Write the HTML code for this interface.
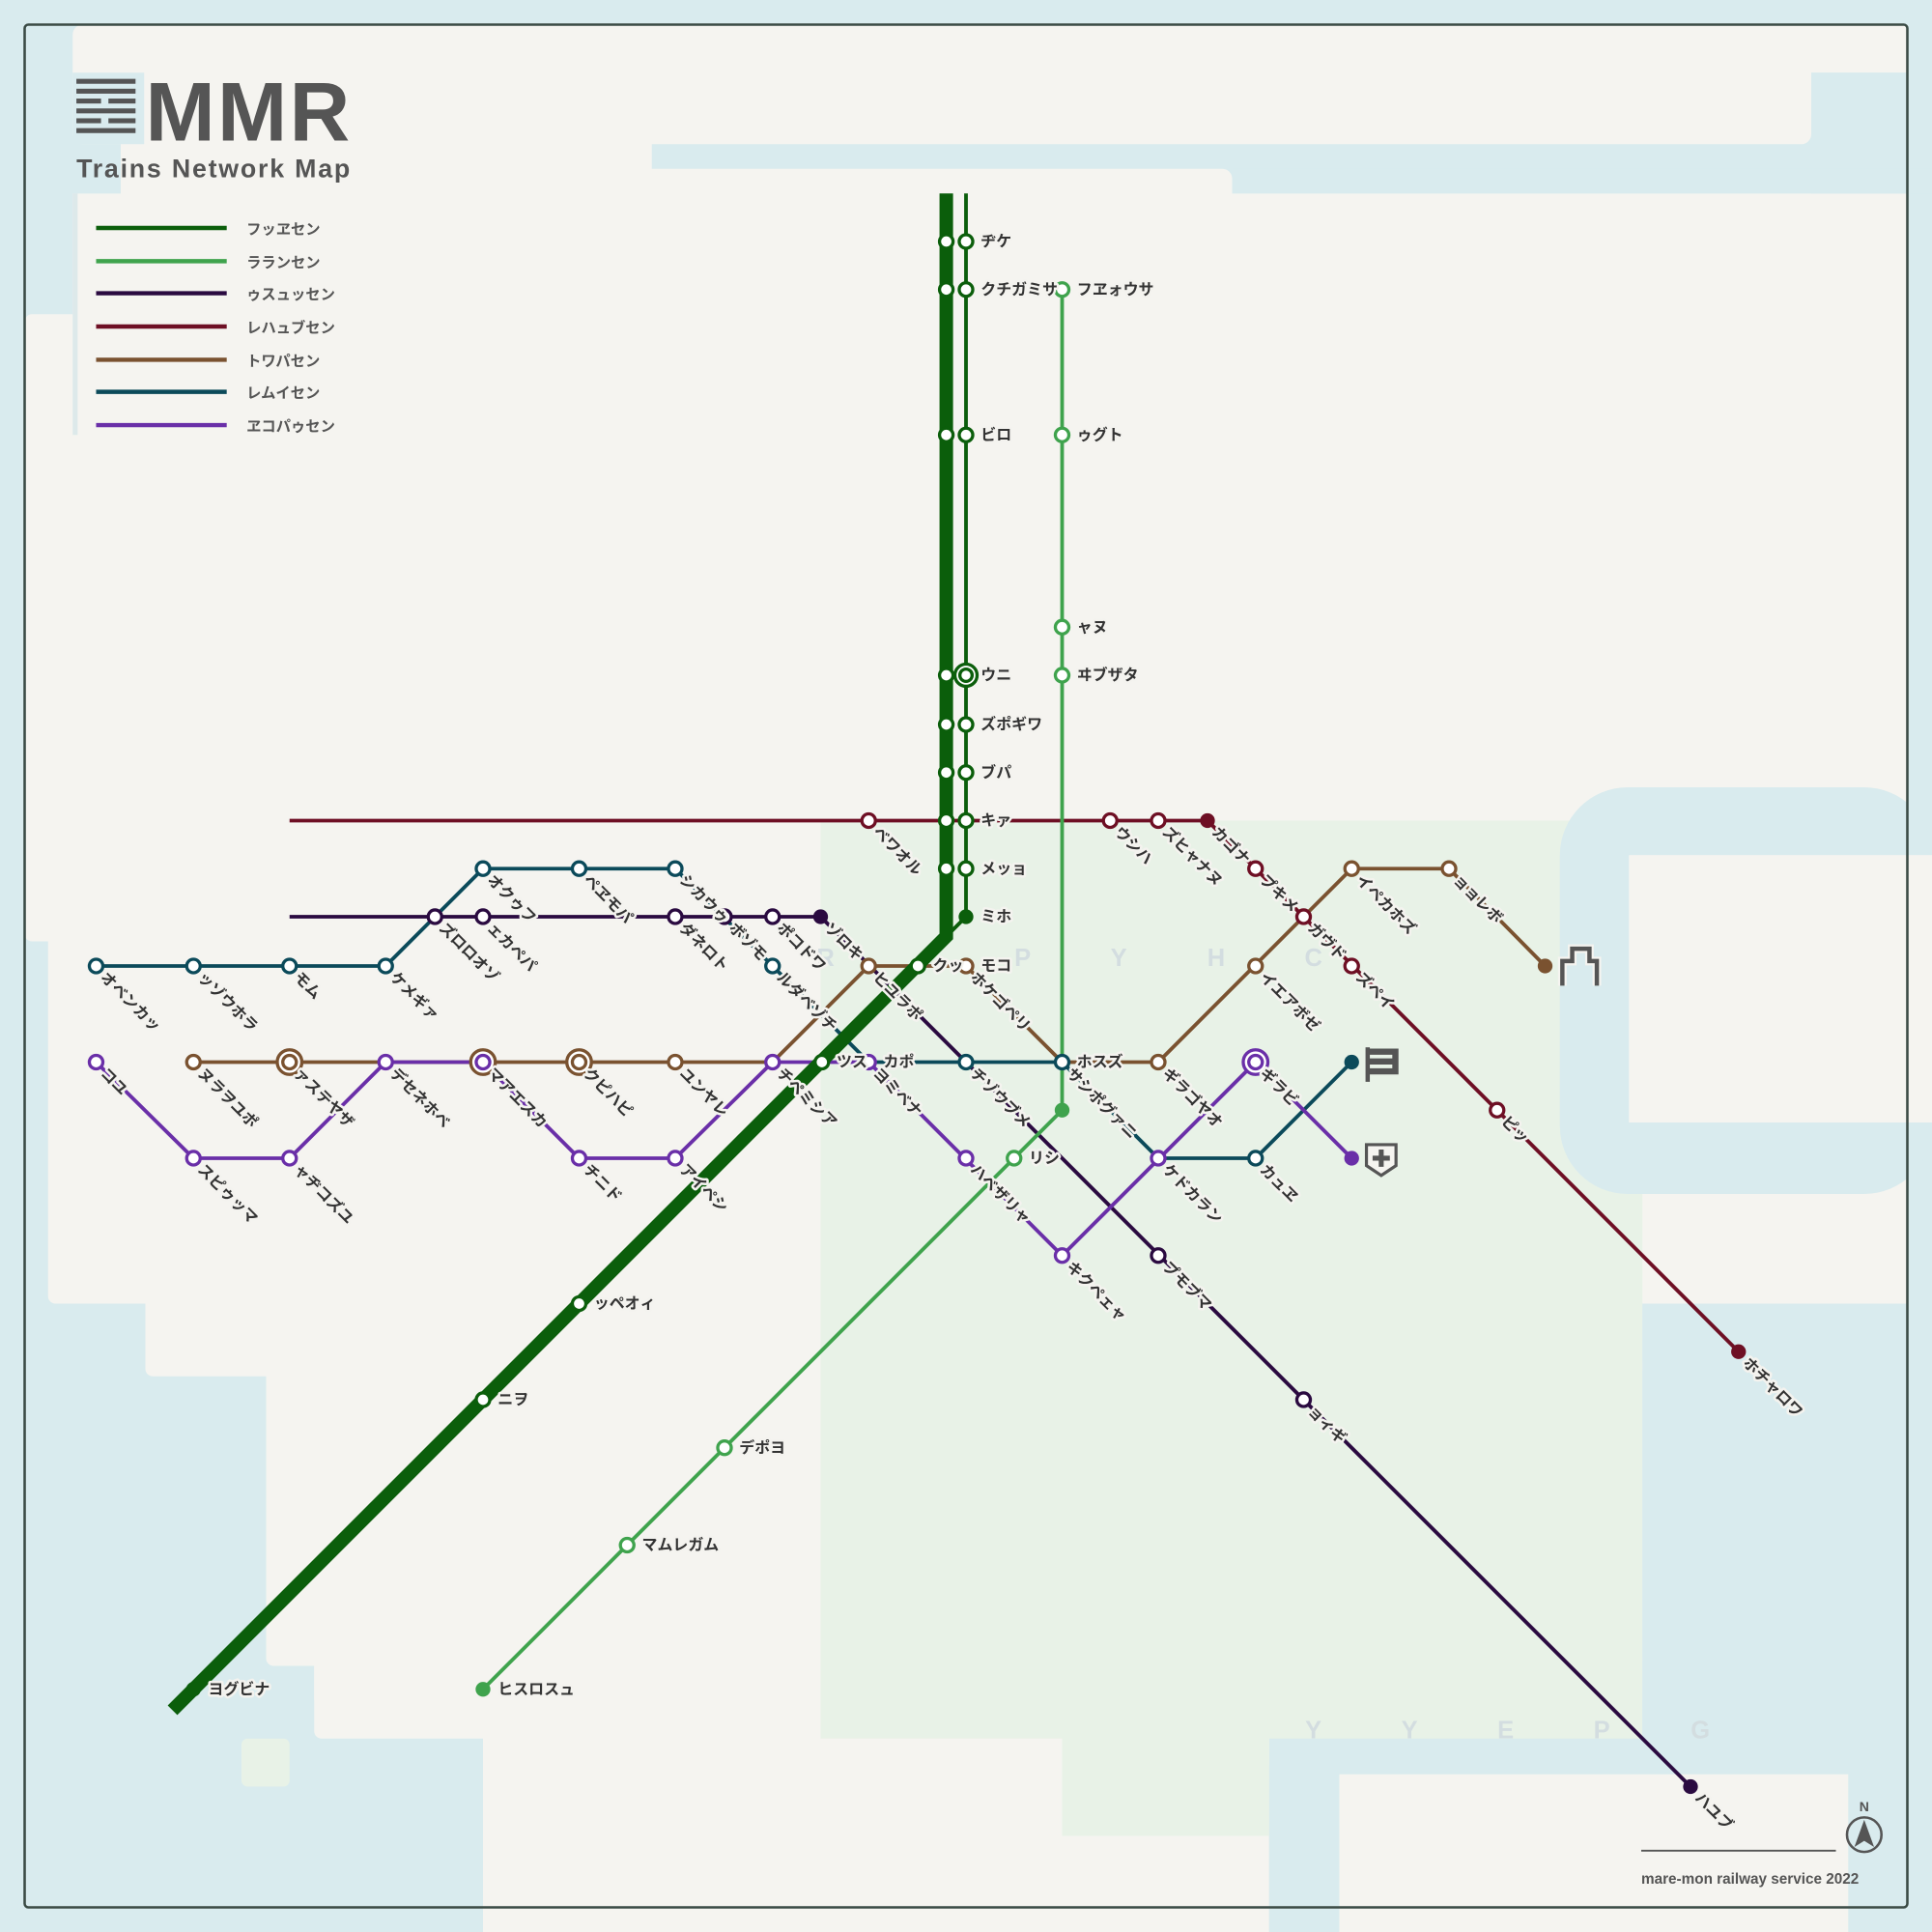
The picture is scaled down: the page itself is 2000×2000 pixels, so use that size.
<!DOCTYPE html>
<html><head><meta charset="utf-8"><style>
html,body{margin:0;padding:0;background:#d9ebee}
svg{display:block}
.l{font-family:"Liberation Sans","Noto Sans CJK JP",sans-serif;font-size:12.5px;font-weight:bold;fill:#333;stroke:#f4f3ef;stroke-width:4px;paint-order:stroke;stroke-linejoin:round}
.s{fill:#fff;stroke-width:2.6}
.ln{fill:none;stroke-width:3;stroke-linejoin:round}
.g{font-family:"Liberation Sans",sans-serif;font-size:20px;font-weight:bold;fill:#d3dde0}
.lg{font-family:"Liberation Sans","Noto Sans CJK JP",sans-serif;font-size:12px;font-weight:bold;fill:#555}
</style></head><body>
<svg width="2000" height="2000" viewBox="0 0 1568 1568" xmlns="http://www.w3.org/2000/svg">
<rect width="1568" height="1568" fill="#d9ebee"/>
<g fill="#f5f4f0">
<rect x="59" y="20" width="1411" height="97" rx="8"/>
<rect x="1400" y="20" width="148" height="39"/>
<rect x="98" y="110" width="431" height="40"/>
<rect x="98" y="137" width="902" height="40" rx="8"/>
<rect x="59" y="157" width="1489" height="901"/>
<rect x="20" y="255" width="60" height="509" rx="6"/>
<rect x="39" y="700" width="60" height="358" rx="6"/>
<rect x="118" y="1040" width="1215" height="77" rx="6"/>
<rect x="216" y="1100" width="1117" height="252" rx="6"/>
<rect x="255" y="1340" width="1078" height="45" rx="6"/>
<rect x="255" y="1340" width="775" height="71" rx="6"/>
<rect x="392" y="1400" width="638" height="168"/>
</g>
<path d="M1030 1568 V1435 a50 50 0 0 1 50 -50 H1333 V1440 H1087 V1568Z" fill="#d9ebee"/>
<rect x="666" y="666" width="667" height="745" fill="#e8f2e7"/>
<rect x="862" y="1400" width="168" height="90" fill="#e8f2e7"/>
<rect x="196" y="1411" width="39" height="39" rx="5" fill="#e8f2e7"/>
<rect x="59" y="59" width="58" height="58" fill="#d9ebee"/>
<rect x="59" y="117" width="39" height="40" fill="#d9ebee"/>
<rect x="59" y="157" width="4" height="196" fill="#dde9ea"/>
<rect x="1266" y="639" width="302" height="330" rx="55" fill="#d9ebee"/>
<rect x="1322" y="694" width="246" height="217" fill="#f5f4f0"/>
<rect x="1470" y="59" width="98" height="98" fill="#d9ebee"/>
<rect x="1000" y="137" width="568" height="20" fill="#d9ebee"/>
<rect x="1333" y="1058" width="235" height="510" fill="#d9ebee"/>
<rect x="1087" y="1440" width="413" height="128" fill="#f5f4f0"/>

<g class="g">
<text x="670" y="784" text-anchor="middle">R</text><text x="830" y="784" text-anchor="middle">P</text><text x="908" y="784" text-anchor="middle">Y</text><text x="987" y="784" text-anchor="middle">H</text><text x="1066" y="784" text-anchor="middle">C</text>
<text x="1066" y="1411" text-anchor="middle">Y</text><text x="1144" y="1411" text-anchor="middle">Y</text><text x="1222" y="1411" text-anchor="middle">E</text><text x="1300" y="1411" text-anchor="middle">P</text><text x="1380" y="1411" text-anchor="middle">G</text>
</g>

<rect x="20" y="20" width="1528" height="1528" rx="3" fill="none" stroke="#3a4a44" stroke-width="2"/>

<!-- logo -->
<g fill="#555">
<rect x="62" y="64" width="48" height="4"/><rect x="62" y="72" width="48" height="4"/>
<rect x="62" y="80" width="20" height="4"/><rect x="88" y="80" width="22" height="4"/>
<rect x="62" y="88" width="48" height="4"/>
<rect x="62" y="96" width="20" height="4"/><rect x="88" y="96" width="22" height="4"/>
<rect x="62" y="104" width="48" height="4"/>
</g>
<text x="118" y="114" font-family="Liberation Sans,sans-serif" font-weight="bold" font-size="68" fill="#555" textLength="166">MMR</text>
<text x="62" y="144" font-family="Liberation Sans,sans-serif" font-weight="bold" font-size="21" fill="#555" textLength="222">Trains Network Map</text>

<!-- legend -->
<g stroke-width="3.5">
<line x1="78" y1="185" x2="184" y2="185" stroke="#0b5e0b"/>
<line x1="78" y1="212" x2="184" y2="212" stroke="#3fa34d"/>
<line x1="78" y1="238" x2="184" y2="238" stroke="#2a0a40"/>
<line x1="78" y1="265" x2="184" y2="265" stroke="#6e0f24"/>
<line x1="78" y1="292" x2="184" y2="292" stroke="#7a5230"/>
<line x1="78" y1="318" x2="184" y2="318" stroke="#0b4a5a"/>
<line x1="78" y1="345" x2="184" y2="345" stroke="#6a2fa8"/>
</g>
<g class="lg">
<text x="200" y="190">フッヱセン</text><text x="200" y="217">ラランセン</text><text x="200" y="243">ゥスュッセン</text><text x="200" y="270">レハュブセン</text><text x="200" y="297">トワパセン</text><text x="200" y="323">レムイセン</text><text x="200" y="350">ヱコパゥセン</text>
</g>

<!-- lines -->
<polyline class="ln" stroke="#6e0f24" points="235,666 980,666 1411,1097"/>
<polyline class="ln" stroke="#2a0a40" points="235,744 666,744 1372,1450"/>
<polyline class="ln" stroke="#0b4a5a" points="78,784 313,784 392,705 548,705 705,862 862,862 940,940 1019,940 1097,862"/>
<polyline class="ln" stroke="#7a5230" points="157,862 627,862 705,784 784,784 862,862 940,862 1097,705 1176,705 1254,784"/>
<polyline class="ln" stroke="#6a2fa8" points="78,862 157,940 235,940 313,862 392,862 470,940 548,940 627,862 705,862 862,1019 1019,862 1097,940"/>
<polyline class="ln" stroke="#3fa34d" points="862,235 862,901 392,1371"/>
<polyline fill="none" stroke="#0b5e0b" stroke-width="11" points="768,157 768,760 140,1388"/>
<polyline class="ln" stroke="#0b5e0b" points="784,157 784,744 768,760"/>

<!-- green trunk stations -->
<g class="s" stroke="#0b5e0b">
<circle cx="768" cy="196" r="5.5"/><circle cx="784" cy="196" r="5.5"/>
<circle cx="768" cy="235" r="5.5"/><circle cx="784" cy="235" r="5.5"/>
<circle cx="768" cy="353" r="5.5"/><circle cx="784" cy="353" r="5.5"/>
<circle cx="768" cy="548" r="5.5"/><circle cx="784" cy="548" r="9"/><circle cx="784" cy="548" r="5"/>
<circle cx="768" cy="588" r="5.5"/><circle cx="784" cy="588" r="5.5"/>
<circle cx="768" cy="627" r="5.5"/><circle cx="784" cy="627" r="5.5"/>
<circle cx="768" cy="666" r="5.5"/><circle cx="784" cy="666" r="5.5"/>
<circle cx="768" cy="705" r="5.5"/><circle cx="784" cy="705" r="5.5"/>
<circle cx="745" cy="784" r="5.5"/><circle cx="667" cy="862" r="5.5"/>
<circle cx="470" cy="1058" r="5.5"/><circle cx="392" cy="1136" r="5.5"/>
</g>
<circle cx="784" cy="744" r="6" fill="#0b5e0b"/><circle cx="157" cy="1371" r="6" fill="#0b5e0b"/>
<g class="s" stroke="#3fa34d">
<circle cx="862" cy="235" r="5.5"/><circle cx="862" cy="353" r="5.5"/><circle cx="862" cy="509" r="5.5"/><circle cx="862" cy="548" r="5.5"/>
<circle cx="823" cy="940" r="5.5"/><circle cx="588" cy="1175" r="5.5"/><circle cx="509" cy="1254" r="5.5"/>
</g>
<circle cx="862" cy="901" r="6" fill="#3fa34d"/><circle cx="392" cy="1371" r="6" fill="#3fa34d"/>

<g class="s" stroke="#6e0f24">
<circle cx="705" cy="666" r="5.5"/><circle cx="901" cy="666" r="5.5"/><circle cx="940" cy="666" r="5.5"/><circle cx="1019" cy="705" r="5.5"/><circle cx="1058" cy="744" r="5.5"/><circle cx="1097" cy="784" r="5.5"/><circle cx="1215" cy="901" r="5.5"/>
</g>
<circle cx="980" cy="666" r="6" fill="#6e0f24"/><circle cx="1411" cy="1097" r="6" fill="#6e0f24"/>

<g class="s" stroke="#2a0a40">
<circle cx="353" cy="744" r="5.5"/><circle cx="392" cy="744" r="5.5"/><circle cx="548" cy="744" r="5.5"/><circle cx="588" cy="744" r="5.5"/><circle cx="627" cy="744" r="5.5"/><circle cx="940" cy="1019" r="5.5"/><circle cx="1058" cy="1136" r="5.5"/>
</g>
<circle cx="666" cy="744" r="6" fill="#2a0a40"/><circle cx="1372" cy="1450" r="6" fill="#2a0a40"/>

<g class="s" stroke="#0b4a5a">
<circle cx="78" cy="784" r="5.5"/><circle cx="157" cy="784" r="5.5"/><circle cx="235" cy="784" r="5.5"/><circle cx="313" cy="784" r="5.5"/><circle cx="392" cy="705" r="5.5"/><circle cx="470" cy="705" r="5.5"/><circle cx="548" cy="705" r="5.5"/><circle cx="627" cy="784" r="5.5"/><circle cx="784" cy="862" r="5.5"/><circle cx="862" cy="862" r="5.5"/><circle cx="1019" cy="940" r="5.5"/>
</g>
<circle cx="1097" cy="862" r="6" fill="#0b4a5a"/>

<g class="s" stroke="#7a5230">
<circle cx="157" cy="862" r="5.5"/>
<circle cx="235" cy="862" r="10"/><circle cx="235" cy="862" r="5.5"/>
<circle cx="392" cy="862" r="10"/>
<circle cx="470" cy="862" r="10"/><circle cx="470" cy="862" r="5.5"/>
<circle cx="548" cy="862" r="5.5"/><circle cx="705" cy="784" r="5.5"/><circle cx="784" cy="784" r="5.5"/><circle cx="940" cy="862" r="5.5"/><circle cx="1019" cy="784" r="5.5"/><circle cx="1097" cy="705" r="5.5"/><circle cx="1176" cy="705" r="5.5"/>
</g>
<circle cx="1254" cy="784" r="6" fill="#7a5230"/>

<g class="s" stroke="#6a2fa8">
<circle cx="78" cy="862" r="5.5"/><circle cx="157" cy="940" r="5.5"/><circle cx="235" cy="940" r="5.5"/><circle cx="313" cy="862" r="5.5"/><circle cx="392" cy="862" r="5.5"/><circle cx="470" cy="940" r="5.5"/><circle cx="548" cy="940" r="5.5"/><circle cx="627" cy="862" r="5.5"/><circle cx="705" cy="862" r="5.5"/><circle cx="784" cy="940" r="5.5"/><circle cx="862" cy="1019" r="5.5"/><circle cx="940" cy="940" r="5.5"/>
<circle cx="1019" cy="862" r="10"/><circle cx="1019" cy="862" r="5.5"/>
</g>
<circle cx="1097" cy="940" r="6" fill="#6a2fa8"/>

<!-- icons -->
<g fill="none" stroke="#555" stroke-width="3.5">
<path d="M1268 800 V780 H1276 V770 H1290 V780 H1296 V800" stroke="#f5f4f0" stroke-width="7"/>
<path d="M1268 800 V780 H1276 V770 H1290 V780 H1296 V800"/>
<path d="M1110 878 V850"/>
<path d="M1109 929 H1133 V946 L1121 954 L1109 946Z" stroke-width="2.5" fill="#f5f4f0"/>
</g>
<path d="M1111 851 H1135 V872 H1111 V867 H1130 V864 H1111 V859 H1130 V856 H1111Z" fill="#555"/>
<path d="M1119 933 h4 v5 h5 v4 h-5 v5 h-4 v-5 h-5 v-4 h5Z" fill="#555"/>

<!-- horizontal labels -->
<g class="l">
<text x="796" y="200">ヂケ</text><text x="796" y="239">クチガミサ</text><text x="796" y="357">ビロ</text><text x="796" y="552">ウニ</text><text x="796" y="592">ズポギワ</text><text x="796" y="631">ブパ</text><text x="796" y="670">キァ</text><text x="796" y="709">メッョ</text><text x="796" y="748">ミホ</text>
<text x="874" y="239">フヱォウサ</text><text x="874" y="357">ゥグト</text><text x="874" y="513">ャヌ</text><text x="874" y="552">ヰブザタ</text>
<text x="757" y="788">クッ</text><text x="796" y="788">モコ</text><text x="679" y="866">ツス</text><text x="717" y="866">カポ</text><text x="874" y="866">ホスズ</text>
<text x="835" y="944">リシ</text><text x="482" y="1062">ッペオィ</text><text x="404" y="1140">ニヲ</text><text x="600" y="1179">デポヨ</text><text x="521" y="1258">マムレガム</text><text x="169" y="1375">ヨグビナ</text><text x="404" y="1375">ヒスロスュ</text>
</g>

<!-- rotated labels -->
<g class="l">
<text transform="translate(705,666) rotate(45)" x="9" y="5">ベワオル</text>
<text transform="translate(901,666) rotate(45)" x="9" y="5">ウシハ</text>
<text transform="translate(940,666) rotate(45)" x="9" y="5">ズヒャナヌ</text>
<text transform="translate(980,666) rotate(45)" x="9" y="5">カゴナ</text>
<text transform="translate(1019,705) rotate(45)" x="9" y="5">プキメ</text>
<text transform="translate(1058,744) rotate(45)" x="9" y="5">ガヴド</text>
<text transform="translate(1097,784) rotate(45)" x="9" y="5">ズペイ</text>
<text transform="translate(1215,901) rotate(45)" x="9" y="5">ピッ</text>
<text transform="translate(1411,1097) rotate(45)" x="9" y="5">ホチャロワ</text>
<text transform="translate(353,744) rotate(45)" x="9" y="5">ズロロオゾ</text>
<text transform="translate(392,744) rotate(45)" x="9" y="5">ェカペパ</text>
<text transform="translate(548,744) rotate(45)" x="9" y="5">ダネロト</text>
<text transform="translate(588,744) rotate(45)" x="9" y="5">ボゾモ</text>
<text transform="translate(627,744) rotate(45)" x="9" y="5">ポコドワ</text>
<text transform="translate(666,744) rotate(45)" x="9" y="5">ゾロキ</text>
<text transform="translate(940,1019) rotate(45)" x="9" y="5">プモブマ</text>
<text transform="translate(1058,1136) rotate(45)" x="9" y="5">ョィギ</text>
<text transform="translate(1372,1450) rotate(45)" x="9" y="5">ハユブ</text>
<text transform="translate(78,784) rotate(45)" x="9" y="5">オベンカッ</text>
<text transform="translate(157,784) rotate(45)" x="9" y="5">ッゾウホラ</text>
<text transform="translate(235,784) rotate(45)" x="9" y="5">モム</text>
<text transform="translate(313,784) rotate(45)" x="9" y="5">ケメギァ</text>
<text transform="translate(392,705) rotate(45)" x="9" y="5">オクゥフ</text>
<text transform="translate(470,705) rotate(45)" x="9" y="5">ペヱモパ</text>
<text transform="translate(548,705) rotate(45)" x="9" y="5">シカウゥ</text>
<text transform="translate(627,784) rotate(45)" x="9" y="5">ルダベゾチ</text>
<text transform="translate(784,862) rotate(45)" x="9" y="5">チゾウブメ</text>
<text transform="translate(862,862) rotate(45)" x="9" y="5">サシポグァニ</text>
<text transform="translate(940,940) rotate(45)" x="9" y="5">ケドカラン</text>
<text transform="translate(1019,940) rotate(45)" x="9" y="5">カュヱ</text>
<text transform="translate(157,862) rotate(45)" x="9" y="5">ヌラヲユポ</text>
<text transform="translate(235,862) rotate(45)" x="9" y="5">ァステヤザ</text>
<text transform="translate(392,862) rotate(45)" x="9" y="5">マアエスカ</text>
<text transform="translate(470,862) rotate(45)" x="9" y="5">クピハピ</text>
<text transform="translate(548,862) rotate(45)" x="9" y="5">ユンヤレ</text>
<text transform="translate(705,784) rotate(45)" x="9" y="5">ヒユラポ</text>
<text transform="translate(784,784) rotate(45)" x="9" y="5">ホケゴペリ</text>
<text transform="translate(940,862) rotate(45)" x="9" y="5">ギラゴヤオ</text>
<text transform="translate(1019,784) rotate(45)" x="9" y="5">イエアボゼ</text>
<text transform="translate(1097,705) rotate(45)" x="9" y="5">イペカホズ</text>
<text transform="translate(1176,705) rotate(45)" x="9" y="5">ョョレボ</text>
<text transform="translate(78,862) rotate(45)" x="9" y="5">コユ</text>
<text transform="translate(157,940) rotate(45)" x="9" y="5">スピゥッマ</text>
<text transform="translate(235,940) rotate(45)" x="9" y="5">ャヂコズユ</text>
<text transform="translate(313,862) rotate(45)" x="9" y="5">デセネホベ</text>
<text transform="translate(470,940) rotate(45)" x="9" y="5">チニド</text>
<text transform="translate(548,940) rotate(45)" x="9" y="5">アイペシ</text>
<text transform="translate(627,862) rotate(45)" x="9" y="5">チペミシア</text>
<text transform="translate(705,862) rotate(45)" x="9" y="5">ヨミベナ</text>
<text transform="translate(784,940) rotate(45)" x="9" y="5">ハベザリャ</text>
<text transform="translate(862,1019) rotate(45)" x="9" y="5">キクペェャ</text>
<text transform="translate(1019,862) rotate(45)" x="9" y="5">ギラビ</text>
</g>

<!-- footer -->
<line x1="1332" y1="1502" x2="1490" y2="1502" stroke="#555" stroke-width="1.5"/>
<text x="1332" y="1529" font-family="Liberation Sans,sans-serif" font-weight="bold" font-size="12" fill="#555">mare-mon railway service 2022</text>
<text x="1513" y="1470" text-anchor="middle" font-family="Liberation Sans,sans-serif" font-weight="bold" font-size="11" fill="#555">N</text>
<circle cx="1513" cy="1489" r="14" fill="none" stroke="#555" stroke-width="2"/>
<path d="M1513 1477 L1521 1499 L1513 1494 L1505 1499Z" fill="#555"/>
</svg>
</body></html>
